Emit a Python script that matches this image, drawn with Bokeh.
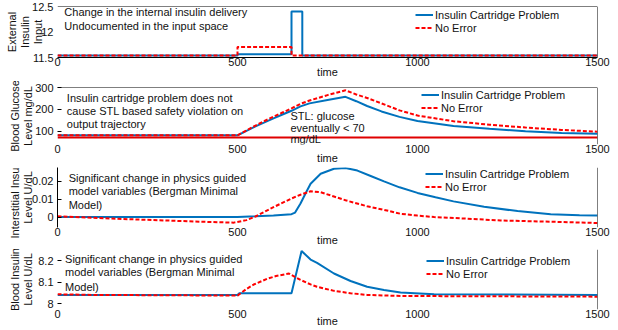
import numpy as np
from bokeh.plotting import figure
from bokeh.models import Range1d, FixedTicker, Label, Span, Legend, LegendItem
from bokeh.layouts import column
from bokeh.embed import file_html
from bokeh.resources import INLINE

# ---------------- data ----------------
time_ticks = [0, 500, 1000, 1500]
series_names = ["Insulin Cartridge Problem", "No Error"]

# Panel 1: external insulin input
ext_t_fault = [0, 500, 500, 650, 650, 680, 680, 1500]
ext_fault = [11.54, 11.54, 11.565, 11.565, 12.40, 12.40, 11.54, 11.54]
ext_t_ok = [0, 500, 500, 650, 650, 1500]
ext_ok = [11.54, 11.54, 11.705, 11.705, 11.54, 11.54]
ext_yticks = [11.5, 12, 12.5]

# Panel 2: blood glucose
glu_t = [0, 500, 525, 550, 575, 600, 625, 650, 675, 700, 750, 800, 830, 860, 900, 950,
         1000, 1100, 1200, 1300, 1400, 1500]
glu_fault = [80, 80, 101, 121, 140, 158, 176, 193, 213, 227, 243, 257, 237, 215, 190, 165,
             146, 123, 110, 99, 91, 87]
glu_ok = [80, 80, 103, 125, 146, 166, 185, 204, 225, 240, 265, 287, 268, 252, 227, 195,
          171, 145, 129, 116, 105, 97]
stl_t = [0, 1500]
stl_level = [70, 70]
glu_yticks = [100, 200, 300]

# Panel 3: interstitial insulin
int_t_fault = [0, 500, 550, 600, 650, 660, 675, 690, 703, 731, 768, 800, 833, 870, 907, 950,
               1000, 1050, 1100, 1185, 1278, 1370, 1450, 1500]
int_fault = [0.0, 0.0, 0.0004, 0.0009, 0.0016, 0.0025, 0.0075, 0.0135, 0.0185, 0.0240, 0.0268,
             0.0272, 0.0258, 0.0228, 0.0198, 0.0165, 0.0134, 0.0110, 0.0087, 0.0057, 0.0033,
             0.0016, 0.0010, 0.0009]
int_t_ok = [0, 100, 200, 300, 400, 490, 525, 550, 600, 650, 675, 703, 731, 768, 800, 860, 907,
            953, 1000, 1046, 1138, 1231, 1370, 1500]
int_ok = [0.0004, -0.0004, -0.0012, -0.0019, -0.0026, -0.0031, -0.0017, 0.0003, 0.0055, 0.0103,
          0.0124, 0.0143, 0.0138, 0.0114, 0.0093, 0.0060, 0.0040, 0.0018, 0.0008, 0.0000,
          -0.0009, -0.0019, -0.0026, -0.0033]
int_yticks = [0, 0.01, 0.02]

# Panel 4: blood insulin
bi_t_fault = [0, 500, 505, 650, 678, 703, 721, 768, 814, 860, 907, 953, 1046, 1500]
bi_fault = [8.04, 8.04, 8.048, 8.048, 8.245, 8.205, 8.19, 8.14, 8.105, 8.078, 8.063, 8.051,
            8.043, 8.04]
bi_t_ok = [0, 100, 490, 500, 525, 547, 582, 607, 643, 675, 703, 721, 768, 814, 860, 953, 1500]
bi_ok = [8.043, 8.04, 8.037, 8.037, 8.068, 8.09, 8.115, 8.128, 8.14, 8.11, 8.089, 8.078, 8.059,
         8.048, 8.04, 8.035, 8.032]
bi_yticks = [8, 8.1, 8.2]

# ---------------- styling ----------------
FONT = "Liberation Sans"
BLUE = "#0072BD"
RED = "#FF0000"
TXT = "#111111"
W = 618
BL, BR = 57, 21


def make_panel(h, top, bottom, yr, yticks, ylabel, ylab_standoff, left_line, bottom_line,
               left_tick, top_line, xlab_standoff, xtick_standoff):
    p = figure(width=W, height=h, x_range=Range1d(0, 1500), y_range=Range1d(*yr),
               output_backend="svg", toolbar_location=None,
               min_border_left=BL, min_border_right=BR, min_border_top=top,
               min_border_bottom=bottom)
    p.outline_line_color = None
    p.xgrid.visible = False
    p.ygrid.visible = False
    p.background_fill_color = "white"
    p.border_fill_color = "white"

    xa = p.xaxis[0]
    xa.ticker = FixedTicker(ticks=time_ticks)
    xa.axis_label = "time"
    xa.axis_label_text_font = FONT
    xa.axis_label_text_font_size = "11px"
    xa.axis_label_text_font_style = "normal"
    xa.axis_label_text_color = TXT
    xa.axis_label_standoff = xlab_standoff
    xa.major_label_standoff = xtick_standoff
    xa.major_label_text_font = FONT
    xa.major_label_text_font_size = "11px"
    xa.major_label_text_color = TXT
    xa.major_tick_in = 0
    xa.major_tick_out = 0
    xa.minor_tick_line_color = None
    xa.axis_line_color = "black" if bottom_line else None

    ya = p.yaxis[0]
    ya.ticker = FixedTicker(ticks=yticks)
    ya.major_label_overrides = {t: f"{t:g}" for t in yticks}
    ya.major_label_text_font = FONT
    ya.major_label_text_font_size = "11px"
    ya.major_label_text_color = TXT
    ya.major_label_text_baseline = "top"
    ya.major_label_standoff = 4
    ya.major_tick_in = left_tick
    ya.major_tick_out = 0
    ya.major_tick_line_color = "black"
    ya.minor_tick_line_color = None
    ya.axis_line_color = "black" if left_line else None
    ya.axis_label = ylabel
    ya.axis_label_text_font = FONT
    ya.axis_label_text_font_size = "11px"
    ya.axis_label_text_font_style = "normal"
    ya.axis_label_text_color = TXT
    ya.axis_label_text_line_height = 1.1
    ya.axis_label_standoff = ylab_standoff

    p.add_layout(Span(location=1500, dimension="height", line_color="black", line_width=1))
    if top_line:
        p.add_layout(Span(location=yr[1], dimension="width", line_color="black", line_width=1))
    return p


def add_series(p, t_fault, v_fault, t_ok, v_ok, legend_x, legend_top, frame_h):
    r1 = p.line(t_fault, v_fault, line_color=BLUE, line_width=2)
    r2 = p.line(t_ok, v_ok, line_color=RED, line_width=2, line_dash="4 2")
    leg = Legend(items=[LegendItem(label=series_names[0], renderers=[r1]),
                        LegendItem(label=series_names[1], renderers=[r2])],
                 location=(legend_x, frame_h - legend_top - 26), orientation="vertical",
                 padding=0, margin=0, spacing=0, border_line_color=None,
                 background_fill_alpha=0, glyph_width=18, glyph_height=13,
                 label_height=13, label_standoff=2, label_text_font=FONT,
                 label_text_font_size="11px", label_text_color=TXT)
    p.add_layout(leg)


def add_text(p, x, y, text):
    p.add_layout(Label(x=x, y=y, text=text, text_font=FONT, text_font_size="11px",
                       text_color=TXT, text_baseline="middle", text_align="left"))


# ---------------- panel 1 ----------------
h1, t1, b1 = 81, 6, 24
p1 = make_panel(h1, t1, b1, (11.5, 12.5), ext_yticks, "External\nInsulin\nInput", -15,
                False, True, 0, True, -3, 0)
add_series(p1, ext_t_fault, ext_fault, ext_t_ok, ext_ok, 358, 2, h1 - t1 - b1)
add_text(p1, 19, 12.384, "Change in the internal insulin delivery")
add_text(p1, 19, 12.112, "Undocumented in the input space")

# ---------------- panel 2 ----------------
h2, t2, b2 = 86, 6, 23
p2 = make_panel(h2, t2, b2, (38, 300), glu_yticks, "Blood Glucose\nLevel mg/dL", -2,
                False, False, 4, True, -4, 0)
add_series(p2, glu_t, glu_fault, glu_t, glu_ok, 364, 1, h2 - t2 - b2)
p2.line(stl_t, stl_level, line_color="#E00000", line_width=2)
add_text(p2, 26, 252, "Insulin cartridge problem does not")
add_text(p2, 26, 190, "cause STL based safety violation on")
add_text(p2, 26, 130, "output trajectory")
add_text(p2, 647, 170, "STL: glucose")
add_text(p2, 647, 114, "eventually < 70")
add_text(p2, 647, 62, "mg/dL")

# ---------------- panel 3 ----------------
h3, t3, b3 = 82, 0, 22
p3 = make_panel(h3, t3, b3, (-0.0058, 0.0275), int_yticks, "Interstitial Insulin\nLevel U/dL", -5,
                True, False, 4, False, -5, 0)
add_series(p3, int_t_fault, int_fault, int_t_ok, int_ok, 368, 0, h3 - t3 - b3)
add_text(p3, 31, 0.0218, "Significant change in physics guided")
add_text(p3, 31, 0.0143, "model variables (Bergman Minimal")
add_text(p3, 31, 0.0066, "Model)")

# ---------------- panel 4 ----------------
h4, t4, b4 = 81, 0, 21
p4 = make_panel(h4, t4, b4, (7.972, 8.252), bi_yticks, "Blood Insulin\nLevel U/dL", 1,
                False, False, 4, False, -6, 0)
add_series(p4, bi_t_fault, bi_fault, bi_t_ok, bi_ok, 369, 5, h4 - t4 - b4)
add_text(p4, 21, 8.206, "Significant change in physics guided")
add_text(p4, 21, 8.145, "model variables (Bergman Minimal")
add_text(p4, 21, 8.078, "Model)")

layout = column(p1, p2, p3, p4, spacing=0)
open("out.html", "w").write(file_html(layout, INLINE))
